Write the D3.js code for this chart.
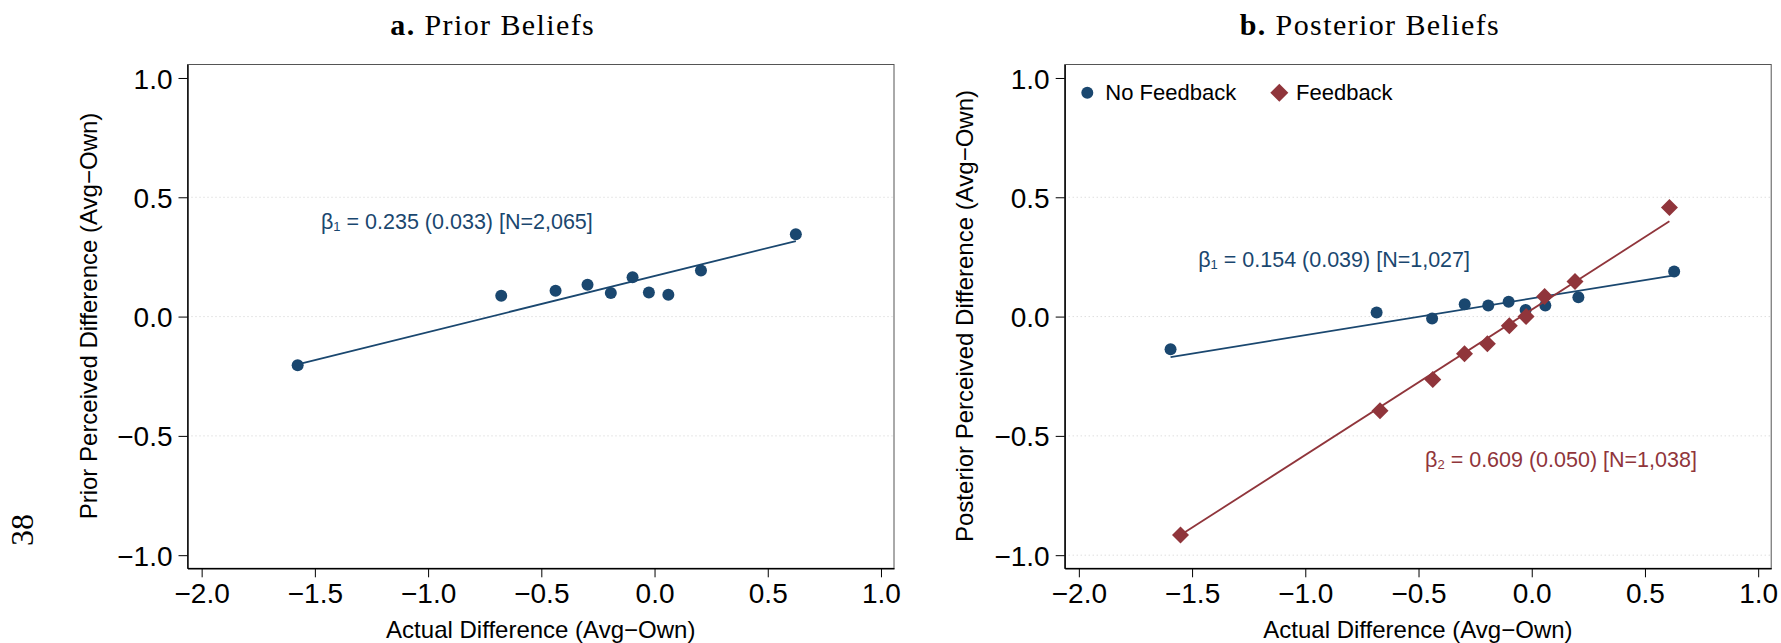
<!DOCTYPE html>
<html>
<head>
<meta charset="utf-8">
<script src="https://cdn.jsdelivr.net/npm/d3@7"></script>
<style>
  html, body { margin: 0; padding: 0; background: #fff; }
  svg { display: block; }
</style>
</head>
<body>
<div id="chart"></div>
<script>
// ---- data ----
const xTicks = [-2.0, -1.5, -1.0, -0.5, 0.0, 0.5, 1.0];
const yTicks = [-1.0, -0.5, 0.0, 0.5, 1.0];

// panel a: prior beliefs (binned scatter)
const priorX = [-1.576, -0.677, -0.437, -0.296, -0.193, -0.097, -0.025, 0.061, 0.205, 0.624];
const priorY = [-0.204, 0.087, 0.108, 0.133, 0.099, 0.165, 0.101, 0.091, 0.193, 0.345];

// panel b: posterior beliefs, no feedback / feedback
const noFbX = [-1.595, -0.685, -0.440, -0.296, -0.192, -0.102, -0.027, 0.060, 0.206, 0.629];
const noFbY = [-0.137, 0.017, -0.008, 0.052, 0.046, 0.062, 0.028, 0.046, 0.081, 0.189];
const fbX = [-1.551, -0.670, -0.437, -0.297, -0.196, -0.099, -0.025, 0.057, 0.191, 0.608];
const fbY = [-0.915, -0.395, -0.264, -0.156, -0.114, -0.038, 0.000, 0.084, 0.147, 0.457];

// linear fits [slope, intercept]
const priorFit = [0.235, 0.170];
const noFbFit = [0.154, 0.076];
const fbFit = [0.609, 0.029];

// annotation texts and where they sit (data units: x start, baseline y)
const priorNote = ['1', ' = 0.235 (0.033) [N=2,065]'];
const priorNoteAt = [-1.473, 0.367];
const noFbNote = ['1', ' = 0.154 (0.039) [N=1,027]'];
const noFbNoteAt = [-1.473, 0.207];
const fbNote = ['2', ' = 0.609 (0.050) [N=1,038]'];
const fbNoteAt = [-0.471, -0.631];

const legendLabels = ['No Feedback', 'Feedback'];

// ---- styles ----
const navy = '#1a476f';
const maroon = '#90353b';
const sans = '"Liberation Sans", Arial, Helvetica, sans-serif';
const serif = '"Liberation Serif", "Times New Roman", serif';

const W = 1781, H = 643;
const frameTop = 64.5, frameBottom = 568.3;
const frameW = 706.5;

const svg = d3.select('#chart').append('svg')
  .attr('width', W).attr('height', H);

const fmt = d3.format('.1f');

function diamond(h) {
  return `M0,${-h}L${h},0L0,${h}L${-h},0Z`;
}

function drawPanel(opt) {
  const x = d3.scaleLinear().domain([-2.0625, 1.0575]).range([0, frameW]);
  const y = d3.scaleLinear().domain([-1.055, 1.0565]).range([frameBottom - frameTop, 0]);
  const g = svg.append('g').attr('transform', `translate(${opt.left},${frameTop})`);
  const ph = frameBottom - frameTop;

  // dotted grid
  g.append('g').selectAll('line')
    .data(yTicks.filter(t => opt.grid.includes(t)))
    .enter().append('line')
    .attr('x1', 0).attr('x2', frameW)
    .attr('y1', d => y(d)).attr('y2', d => y(d))
    .attr('stroke', '#cfcfcf').attr('stroke-width', 1)
    .attr('stroke-dasharray', '1,3');

  // frame
  g.append('rect').attr('width', frameW).attr('height', ph)
    .attr('fill', 'none').attr('stroke', '#555').attr('stroke-width', 1);

  // axes
  const xAxis = d3.axisBottom(x).tickValues(xTicks).tickFormat(fmt).tickSizeInner(9).tickSizeOuter(0).tickPadding(6);
  const yAxis = d3.axisLeft(y).tickValues(yTicks).tickFormat(fmt).tickSizeInner(9).tickSizeOuter(0).tickPadding(6);

  const gx = g.append('g').attr('transform', `translate(0,${ph})`).call(xAxis);
  const gy = g.append('g').call(yAxis);
  [gx, gy].forEach(a => {
    a.select('.domain').attr('stroke', '#000').attr('stroke-width', 1.4);
    a.selectAll('.tick line').attr('stroke', '#000').attr('stroke-width', 1);
    a.selectAll('.tick text').attr('font-family', sans).attr('font-size', 28).attr('fill', '#000');
  });
  gx.selectAll('.tick text').attr('dy', '0.71em');
  gy.selectAll('.tick text').attr('dy', '0.36em');

  // axis titles
  g.append('text')
    .attr('x', frameW / 2).attr('y', 638 - frameTop)
    .attr('text-anchor', 'middle')
    .attr('font-family', sans).attr('font-size', 24)
    .text('Actual Difference (Avg\u2212Own)');
  g.append('text')
    .attr('transform', `translate(${opt.yTitleX - opt.left},${316 - frameTop}) rotate(-90)`)
    .attr('text-anchor', 'middle')
    .attr('font-family', sans).attr('font-size', 24)
    .text(opt.yTitle);

  // panel title
  const t = svg.append('text')
    .attr('x', opt.left + frameW / 2 - 48).attr('y', 35)
    .attr('text-anchor', 'middle')
    .attr('font-family', serif).attr('font-size', 30)
    .attr('letter-spacing', 1.4);
  t.append('tspan').attr('font-weight', 'bold').text(opt.tag);
  t.append('tspan').text(' ' + opt.title);

  // series
  opt.series.forEach(s => {
    const pts = s.xs.map((v, i) => [v, s.ys[i]]);
    const ext = d3.extent(s.xs);
    const line = d3.line().x(d => x(d[0])).y(d => y(d[1]));
    g.append('path')
      .datum(ext.map(v => [v, s.fit[1] + s.fit[0] * v]))
      .attr('d', line)
      .attr('fill', 'none').attr('stroke', s.color).attr('stroke-width', 1.8);

    const m = g.append('g').selectAll('.m').data(pts).enter();
    if (s.shape === 'circle') {
      m.append('circle').attr('cx', d => x(d[0])).attr('cy', d => y(d[1]))
        .attr('r', 6).attr('fill', s.color);
    } else {
      m.append('path').attr('d', diamond(8.5))
        .attr('transform', d => `translate(${x(d[0])},${y(d[1])})`)
        .attr('fill', s.color);
    }

    const note = g.append('text')
      .attr('x', x(s.noteAt[0])).attr('y', y(s.noteAt[1]))
      .attr('font-family', sans).attr('font-size', 21.5).attr('fill', s.color);
    note.append('tspan').text('\u03b2');
    note.append('tspan').attr('font-size', 13).attr('dy', 2).text(s.note[0]);
    note.append('tspan').attr('dy', -2).text(s.note[1]);
  });

  // legend
  if (opt.legend) {
    const lg = g.append('g').attr('transform', 'translate(0,28.2)');
    lg.append('circle').attr('cx', 22.6).attr('cy', 0).attr('r', 6).attr('fill', navy);
    lg.append('text').attr('x', 40.6).attr('y', 7.6)
      .attr('font-family', sans).attr('font-size', 22).text(legendLabels[0]);
    lg.append('path').attr('d', diamond(9)).attr('transform', 'translate(214.6,0)').attr('fill', maroon);
    lg.append('text').attr('x', 231.3).attr('y', 7.6)
      .attr('font-family', sans).attr('font-size', 22).text(legendLabels[1]);
  }
}

drawPanel({
  left: 187.5, tag: 'a.', title: 'Prior Beliefs',
  yTitle: 'Prior Perceived Difference (Avg\u2212Own)', yTitleX: 97,
  grid: [-0.5, 0.0, 0.5], legend: false,
  series: [
    { xs: priorX, ys: priorY, fit: priorFit, color: navy, shape: 'circle', note: priorNote, noteAt: priorNoteAt }
  ]
});

drawPanel({
  left: 1064.7, tag: 'b.', title: 'Posterior Beliefs',
  yTitle: 'Posterior Perceived Difference (Avg\u2212Own)', yTitleX: 973,
  grid: [-1.0, -0.5, 0.0, 0.5], legend: true,
  series: [
    { xs: noFbX, ys: noFbY, fit: noFbFit, color: navy, shape: 'circle', note: noFbNote, noteAt: noFbNoteAt },
    { xs: fbX, ys: fbY, fit: fbFit, color: maroon, shape: 'diamond', note: fbNote, noteAt: fbNoteAt }
  ]
});

// page number from the source document
svg.append('text')
  .attr('transform', 'translate(33,530) rotate(-90)')
  .attr('text-anchor', 'middle')
  .attr('font-family', serif).attr('font-size', 32)
  .text('38');
</script>
</body>
</html>
